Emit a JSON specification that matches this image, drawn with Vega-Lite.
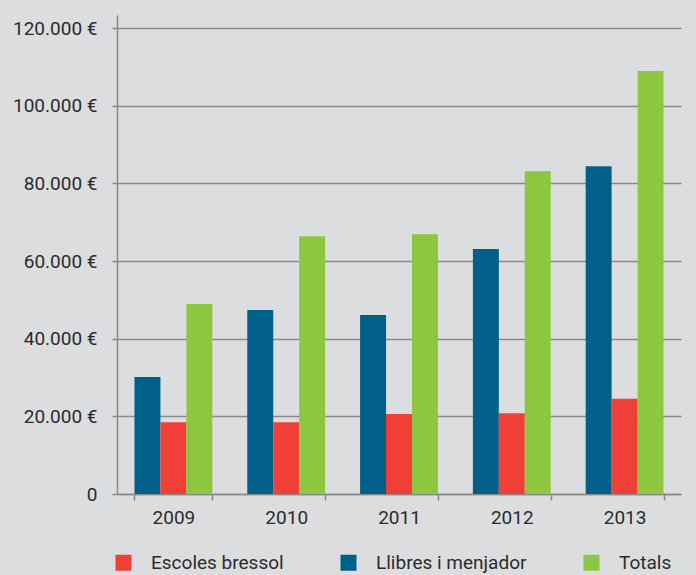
{
  "$schema": "https://vega.github.io/schema/vega-lite/v6.json",
  "autosize": {"type": "none"},
  "padding": {"left": 117, "top": 15, "right": 0, "bottom": 81},
  "width": 579,
  "height": 479,
  "background": "#dcdddf",
  "config": {
    "view": {"stroke": null},
    "font": "Roboto",
    "axis": {
      "labelFont": "Roboto",
      "labelFontSize": 19,
      "labelColor": "#2b2b2b",
      "domainColor": "#8a8a8a",
      "domainWidth": 1.5,
      "tickColor": "#8a8a8a",
      "tickWidth": 1.5,
      "gridColor": "#8a8a8a",
      "gridWidth": 1.5,
      "gridOpacity": 1,
      "title": null
    },
    "legend": {
      "labelFont": "Roboto"
    }
  },
  "data": {
    "values": [
      {"year": "2009", "serie": "Llibres i menjador", "value": 30100},
      {"year": "2009", "serie": "Escoles bressol", "value": 18500},
      {"year": "2009", "serie": "Totals", "value": 48900},
      {"year": "2010", "serie": "Llibres i menjador", "value": 47400},
      {"year": "2010", "serie": "Escoles bressol", "value": 18500},
      {"year": "2010", "serie": "Totals", "value": 66400},
      {"year": "2011", "serie": "Llibres i menjador", "value": 46100},
      {"year": "2011", "serie": "Escoles bressol", "value": 20600},
      {"year": "2011", "serie": "Totals", "value": 66900},
      {"year": "2012", "serie": "Llibres i menjador", "value": 63100},
      {"year": "2012", "serie": "Escoles bressol", "value": 20800},
      {"year": "2012", "serie": "Totals", "value": 83100},
      {"year": "2013", "serie": "Llibres i menjador", "value": 84400},
      {"year": "2013", "serie": "Escoles bressol", "value": 24500},
      {"year": "2013", "serie": "Totals", "value": 108900}
    ]
  },
  "mark": {"type": "bar"},
  "encoding": {
    "x": {
      "field": "year",
      "type": "nominal",
      "scale": {"range": [0, 564], "paddingInner": 0.31, "paddingOuter": 0.155},
      "axis": {
        "labelAngle": 0,
        "tickBand": "extent",
        "tickSize": 6,
        "labelPadding": 8,
        "domain": true,
        "grid": false
      }
    },
    "xOffset": {
      "field": "serie",
      "type": "nominal",
      "sort": ["Llibres i menjador", "Escoles bressol", "Totals"],
      "scale": {"paddingInner": 0, "paddingOuter": 0}
    },
    "y": {
      "field": "value",
      "type": "quantitative",
      "scale": {"domain": [0, 123350], "nice": false, "zero": true},
      "axis": {
        "values": [0, 20000, 40000, 60000, 80000, 100000, 120000],
        "labelExpr": "datum.value == 0 ? '0' : replace(format(datum.value, ','), ',', '.') + ' €'",
        "tickSize": 5,
        "labelPadding": 15,
        "grid": true,
        "domain": true
      }
    },
    "color": {
      "field": "serie",
      "type": "nominal",
      "scale": {
        "domain": ["Escoles bressol", "Llibres i menjador", "Totals"],
        "range": ["#ef3f37", "#00608a", "#8dc63f"]
      },
      "legend": {
        "title": null,
        "orient": "none",
        "legendX": -3,
        "legendY": 538,
        "direction": "horizontal",
        "columns": 3,
        "columnPadding": 55,
        "symbolType": "square",
        "symbolSize": 256,
        "symbolStrokeWidth": 0,
        "symbolOpacity": 1,
        "labelFontSize": 19,
        "labelColor": "#2b2b2b",
        "labelOffset": 18,
        "labelLimit": 300
      }
    }
  }
}
